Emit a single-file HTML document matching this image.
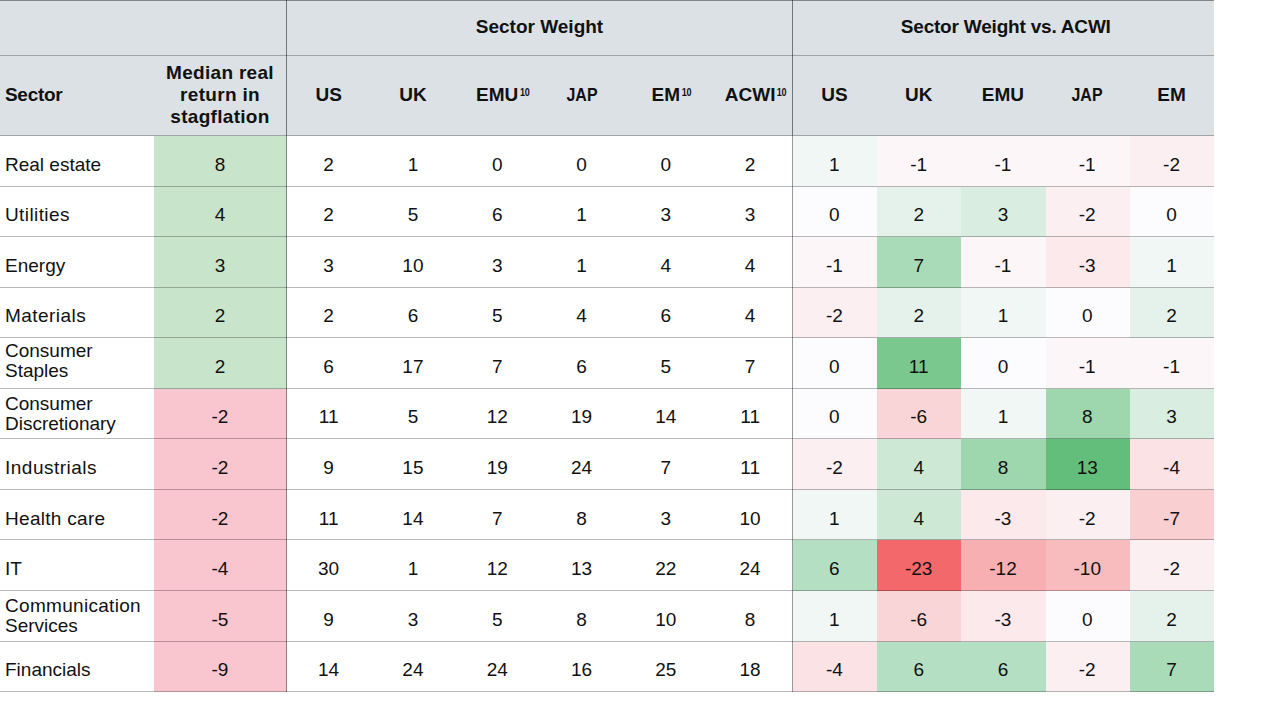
<!DOCTYPE html><html><head><meta charset="utf-8"><style>
html,body{margin:0;padding:0;background:#fff;width:1280px;height:723px;overflow:hidden;position:relative}
body{font-family:"Liberation Sans",sans-serif;color:#111}
.a{position:absolute}
.t{position:absolute;white-space:nowrap;text-align:center;font-size:19px;line-height:20px}
.b{font-weight:bold}
.s{position:absolute;font-size:10.5px;font-weight:bold;line-height:10px;letter-spacing:-0.3px;transform:scaleX(0.86);transform-origin:0 0}
</style></head><body>

<div class="a" style="left:0.00px;top:0.00px;width:1214.00px;height:136.00px;background:#dce1e5"></div>
<div class="a" style="left:154.00px;top:136.00px;width:133.00px;height:51.00px;background:#c8e4ca"></div>
<div class="a" style="left:793.00px;top:136.00px;width:84.00px;height:51.00px;background:rgb(240,247,245)"></div>
<div class="a" style="left:877.00px;top:136.00px;width:84.00px;height:51.00px;background:rgb(252,246,249)"></div>
<div class="a" style="left:961.00px;top:136.00px;width:85.00px;height:51.00px;background:rgb(252,246,249)"></div>
<div class="a" style="left:1046.00px;top:136.00px;width:84.00px;height:51.00px;background:rgb(252,246,249)"></div>
<div class="a" style="left:1130.00px;top:136.00px;width:84.00px;height:51.00px;background:rgb(251,239,242)"></div>
<div class="a" style="left:154.00px;top:187.00px;width:133.00px;height:50.00px;background:#c8e4ca"></div>
<div class="a" style="left:793.00px;top:187.00px;width:84.00px;height:50.00px;background:rgb(252,252,255)"></div>
<div class="a" style="left:877.00px;top:187.00px;width:84.00px;height:50.00px;background:rgb(228,242,235)"></div>
<div class="a" style="left:961.00px;top:187.00px;width:85.00px;height:50.00px;background:rgb(217,238,225)"></div>
<div class="a" style="left:1046.00px;top:187.00px;width:84.00px;height:50.00px;background:rgb(251,239,242)"></div>
<div class="a" style="left:1130.00px;top:187.00px;width:84.00px;height:50.00px;background:rgb(252,252,255)"></div>
<div class="a" style="left:154.00px;top:237.00px;width:133.00px;height:51.00px;background:#c8e4ca"></div>
<div class="a" style="left:793.00px;top:237.00px;width:84.00px;height:51.00px;background:rgb(252,246,249)"></div>
<div class="a" style="left:877.00px;top:237.00px;width:84.00px;height:51.00px;background:rgb(170,219,184)"></div>
<div class="a" style="left:961.00px;top:237.00px;width:85.00px;height:51.00px;background:rgb(252,246,249)"></div>
<div class="a" style="left:1046.00px;top:237.00px;width:84.00px;height:51.00px;background:rgb(251,233,236)"></div>
<div class="a" style="left:1130.00px;top:237.00px;width:84.00px;height:51.00px;background:rgb(240,247,245)"></div>
<div class="a" style="left:154.00px;top:288.00px;width:133.00px;height:50.00px;background:#c8e4ca"></div>
<div class="a" style="left:793.00px;top:288.00px;width:84.00px;height:50.00px;background:rgb(251,239,242)"></div>
<div class="a" style="left:877.00px;top:288.00px;width:84.00px;height:50.00px;background:rgb(228,242,235)"></div>
<div class="a" style="left:961.00px;top:288.00px;width:85.00px;height:50.00px;background:rgb(240,247,245)"></div>
<div class="a" style="left:1046.00px;top:288.00px;width:84.00px;height:50.00px;background:rgb(252,252,255)"></div>
<div class="a" style="left:1130.00px;top:288.00px;width:84.00px;height:50.00px;background:rgb(228,242,235)"></div>
<div class="a" style="left:154.00px;top:338.00px;width:133.00px;height:51.00px;background:#c8e4ca"></div>
<div class="a" style="left:793.00px;top:338.00px;width:84.00px;height:51.00px;background:rgb(252,252,255)"></div>
<div class="a" style="left:877.00px;top:338.00px;width:84.00px;height:51.00px;background:rgb(123,200,143)"></div>
<div class="a" style="left:961.00px;top:338.00px;width:85.00px;height:51.00px;background:rgb(252,252,255)"></div>
<div class="a" style="left:1046.00px;top:338.00px;width:84.00px;height:51.00px;background:rgb(252,246,249)"></div>
<div class="a" style="left:1130.00px;top:338.00px;width:84.00px;height:51.00px;background:rgb(252,246,249)"></div>
<div class="a" style="left:154.00px;top:389.00px;width:133.00px;height:50.00px;background:#f9c6cf"></div>
<div class="a" style="left:793.00px;top:389.00px;width:84.00px;height:50.00px;background:rgb(252,252,255)"></div>
<div class="a" style="left:877.00px;top:389.00px;width:84.00px;height:50.00px;background:rgb(249,213,216)"></div>
<div class="a" style="left:961.00px;top:389.00px;width:85.00px;height:50.00px;background:rgb(240,247,245)"></div>
<div class="a" style="left:1046.00px;top:389.00px;width:84.00px;height:50.00px;background:rgb(158,214,174)"></div>
<div class="a" style="left:1130.00px;top:389.00px;width:84.00px;height:50.00px;background:rgb(217,238,225)"></div>
<div class="a" style="left:154.00px;top:439.00px;width:133.00px;height:51.00px;background:#f9c6cf"></div>
<div class="a" style="left:793.00px;top:439.00px;width:84.00px;height:51.00px;background:rgb(251,239,242)"></div>
<div class="a" style="left:877.00px;top:439.00px;width:84.00px;height:51.00px;background:rgb(205,233,214)"></div>
<div class="a" style="left:961.00px;top:439.00px;width:85.00px;height:51.00px;background:rgb(158,214,174)"></div>
<div class="a" style="left:1046.00px;top:439.00px;width:84.00px;height:51.00px;background:rgb(99,190,123)"></div>
<div class="a" style="left:1130.00px;top:439.00px;width:84.00px;height:51.00px;background:rgb(250,226,229)"></div>
<div class="a" style="left:154.00px;top:490.00px;width:133.00px;height:50.00px;background:#f9c6cf"></div>
<div class="a" style="left:793.00px;top:490.00px;width:84.00px;height:50.00px;background:rgb(240,247,245)"></div>
<div class="a" style="left:877.00px;top:490.00px;width:84.00px;height:50.00px;background:rgb(205,233,214)"></div>
<div class="a" style="left:961.00px;top:490.00px;width:85.00px;height:50.00px;background:rgb(251,233,236)"></div>
<div class="a" style="left:1046.00px;top:490.00px;width:84.00px;height:50.00px;background:rgb(251,239,242)"></div>
<div class="a" style="left:1130.00px;top:490.00px;width:84.00px;height:50.00px;background:rgb(249,207,210)"></div>
<div class="a" style="left:154.00px;top:540.00px;width:133.00px;height:51.00px;background:#f9c6cf"></div>
<div class="a" style="left:793.00px;top:540.00px;width:84.00px;height:51.00px;background:rgb(181,223,194)"></div>
<div class="a" style="left:877.00px;top:540.00px;width:84.00px;height:51.00px;background:rgb(242,104,107)"></div>
<div class="a" style="left:961.00px;top:540.00px;width:85.00px;height:51.00px;background:rgb(247,175,178)"></div>
<div class="a" style="left:1046.00px;top:540.00px;width:84.00px;height:51.00px;background:rgb(248,188,191)"></div>
<div class="a" style="left:1130.00px;top:540.00px;width:84.00px;height:51.00px;background:rgb(251,239,242)"></div>
<div class="a" style="left:154.00px;top:591.00px;width:133.00px;height:51.00px;background:#f9c6cf"></div>
<div class="a" style="left:793.00px;top:591.00px;width:84.00px;height:51.00px;background:rgb(240,247,245)"></div>
<div class="a" style="left:877.00px;top:591.00px;width:84.00px;height:51.00px;background:rgb(249,213,216)"></div>
<div class="a" style="left:961.00px;top:591.00px;width:85.00px;height:51.00px;background:rgb(251,233,236)"></div>
<div class="a" style="left:1046.00px;top:591.00px;width:84.00px;height:51.00px;background:rgb(252,252,255)"></div>
<div class="a" style="left:1130.00px;top:591.00px;width:84.00px;height:51.00px;background:rgb(228,242,235)"></div>
<div class="a" style="left:154.00px;top:642.00px;width:133.00px;height:50.00px;background:#f9c6cf"></div>
<div class="a" style="left:793.00px;top:642.00px;width:84.00px;height:50.00px;background:rgb(250,226,229)"></div>
<div class="a" style="left:877.00px;top:642.00px;width:84.00px;height:50.00px;background:rgb(181,223,194)"></div>
<div class="a" style="left:961.00px;top:642.00px;width:85.00px;height:50.00px;background:rgb(181,223,194)"></div>
<div class="a" style="left:1046.00px;top:642.00px;width:84.00px;height:50.00px;background:rgb(251,239,242)"></div>
<div class="a" style="left:1130.00px;top:642.00px;width:84.00px;height:50.00px;background:rgb(170,219,184)"></div>
<div class="t b" style="left:539.50px;top:17.17px;width:0;line-height:20px"><div style="position:absolute;left:0;transform:translateX(-50%)">Sector Weight</div></div>
<div class="t b" style="left:1005.75px;top:17.17px;width:0;line-height:20px"><div style="position:absolute;left:0;transform:translateX(-50%)"><span style='letter-spacing:-0.2px'>Sector Weight vs. ACWI</span></div></div>
<div class="t b" style="left:5.00px;top:84.92px;text-align:left;line-height:20px"><span style='letter-spacing:-0.3px'>Sector</span></div>
<div class="t b" style="left:153.5px;width:133px;top:62.22px;line-height:22px;white-space:normal"><span style="letter-spacing:0.3px">Median real<br>return in<br>stagflation</span></div>
<div class="t b" style="left:328.64px;top:84.82px;width:0;line-height:20px"><div style="position:absolute;left:0;transform:translateX(-50%)">US</div></div>
<div class="t b" style="left:412.94px;top:84.82px;width:0;line-height:20px"><div style="position:absolute;left:0;transform:translateX(-50%)">UK</div></div>
<div class="t b" style="left:497.23px;top:84.82px;width:0"><div style="position:absolute;left:0;transform:translateX(-50%)">EMU<span class="s" style="left:100%;top:2px;margin-left:1.5px">10</span></div></div>
<div class="t b" style="left:581.52px;top:84.82px;width:0;line-height:20px"><div style="position:absolute;left:0;transform:translateX(-50%)"><span style='display:inline-block;transform:scaleX(0.84)'>JAP</span></div></div>
<div class="t b" style="left:665.81px;top:84.82px;width:0"><div style="position:absolute;left:0;transform:translateX(-50%)">EM<span class="s" style="left:100%;top:2px;margin-left:1.5px">10</span></div></div>
<div class="t b" style="left:750.10px;top:84.82px;width:0"><div style="position:absolute;left:0;transform:translateX(-50%)">ACWI<span class="s" style="left:100%;top:2px;margin-left:1.5px">10</span></div></div>
<div class="t b" style="left:834.38px;top:84.82px;width:0;line-height:20px"><div style="position:absolute;left:0;transform:translateX(-50%)">US</div></div>
<div class="t b" style="left:918.68px;top:84.82px;width:0;line-height:20px"><div style="position:absolute;left:0;transform:translateX(-50%)">UK</div></div>
<div class="t b" style="left:1002.97px;top:84.82px;width:0;line-height:20px"><div style="position:absolute;left:0;transform:translateX(-50%)">EMU</div></div>
<div class="t b" style="left:1087.26px;top:84.82px;width:0;line-height:20px"><div style="position:absolute;left:0;transform:translateX(-50%)"><span style='display:inline-block;transform:scaleX(0.84)'>JAP</span></div></div>
<div class="t b" style="left:1171.55px;top:84.82px;width:0;line-height:20px"><div style="position:absolute;left:0;transform:translateX(-50%)">EM</div></div>
<div class="t" style="left:5.00px;top:154.72px;text-align:left;line-height:20px">Real estate</div>
<div class="t" style="left:220.00px;top:154.72px;width:0;line-height:20px"><div style="position:absolute;left:0;transform:translateX(-50%)">8</div></div>
<div class="t" style="left:328.64px;top:154.72px;width:0;line-height:20px"><div style="position:absolute;left:0;transform:translateX(-50%)">2</div></div>
<div class="t" style="left:412.94px;top:154.72px;width:0;line-height:20px"><div style="position:absolute;left:0;transform:translateX(-50%)">1</div></div>
<div class="t" style="left:497.23px;top:154.72px;width:0;line-height:20px"><div style="position:absolute;left:0;transform:translateX(-50%)">0</div></div>
<div class="t" style="left:581.52px;top:154.72px;width:0;line-height:20px"><div style="position:absolute;left:0;transform:translateX(-50%)">0</div></div>
<div class="t" style="left:665.81px;top:154.72px;width:0;line-height:20px"><div style="position:absolute;left:0;transform:translateX(-50%)">0</div></div>
<div class="t" style="left:750.10px;top:154.72px;width:0;line-height:20px"><div style="position:absolute;left:0;transform:translateX(-50%)">2</div></div>
<div class="t" style="left:834.38px;top:154.72px;width:0;line-height:20px"><div style="position:absolute;left:0;transform:translateX(-50%)">1</div></div>
<div class="t" style="left:918.68px;top:154.72px;width:0;line-height:20px"><div style="position:absolute;left:0;transform:translateX(-50%)">-1</div></div>
<div class="t" style="left:1002.97px;top:154.72px;width:0;line-height:20px"><div style="position:absolute;left:0;transform:translateX(-50%)">-1</div></div>
<div class="t" style="left:1087.26px;top:154.72px;width:0;line-height:20px"><div style="position:absolute;left:0;transform:translateX(-50%)">-1</div></div>
<div class="t" style="left:1171.55px;top:154.72px;width:0;line-height:20px"><div style="position:absolute;left:0;transform:translateX(-50%)">-2</div></div>
<div class="t" style="left:5.00px;top:205.27px;text-align:left;line-height:20px"><span style='letter-spacing:0.4px'>Utilities</span></div>
<div class="t" style="left:220.00px;top:205.27px;width:0;line-height:20px"><div style="position:absolute;left:0;transform:translateX(-50%)">4</div></div>
<div class="t" style="left:328.64px;top:205.27px;width:0;line-height:20px"><div style="position:absolute;left:0;transform:translateX(-50%)">2</div></div>
<div class="t" style="left:412.94px;top:205.27px;width:0;line-height:20px"><div style="position:absolute;left:0;transform:translateX(-50%)">5</div></div>
<div class="t" style="left:497.23px;top:205.27px;width:0;line-height:20px"><div style="position:absolute;left:0;transform:translateX(-50%)">6</div></div>
<div class="t" style="left:581.52px;top:205.27px;width:0;line-height:20px"><div style="position:absolute;left:0;transform:translateX(-50%)">1</div></div>
<div class="t" style="left:665.81px;top:205.27px;width:0;line-height:20px"><div style="position:absolute;left:0;transform:translateX(-50%)">3</div></div>
<div class="t" style="left:750.10px;top:205.27px;width:0;line-height:20px"><div style="position:absolute;left:0;transform:translateX(-50%)">3</div></div>
<div class="t" style="left:834.38px;top:205.27px;width:0;line-height:20px"><div style="position:absolute;left:0;transform:translateX(-50%)">0</div></div>
<div class="t" style="left:918.68px;top:205.27px;width:0;line-height:20px"><div style="position:absolute;left:0;transform:translateX(-50%)">2</div></div>
<div class="t" style="left:1002.97px;top:205.27px;width:0;line-height:20px"><div style="position:absolute;left:0;transform:translateX(-50%)">3</div></div>
<div class="t" style="left:1087.26px;top:205.27px;width:0;line-height:20px"><div style="position:absolute;left:0;transform:translateX(-50%)">-2</div></div>
<div class="t" style="left:1171.55px;top:205.27px;width:0;line-height:20px"><div style="position:absolute;left:0;transform:translateX(-50%)">0</div></div>
<div class="t" style="left:5.00px;top:255.81px;text-align:left;line-height:20px">Energy</div>
<div class="t" style="left:220.00px;top:255.81px;width:0;line-height:20px"><div style="position:absolute;left:0;transform:translateX(-50%)">3</div></div>
<div class="t" style="left:328.64px;top:255.81px;width:0;line-height:20px"><div style="position:absolute;left:0;transform:translateX(-50%)">3</div></div>
<div class="t" style="left:412.94px;top:255.81px;width:0;line-height:20px"><div style="position:absolute;left:0;transform:translateX(-50%)">10</div></div>
<div class="t" style="left:497.23px;top:255.81px;width:0;line-height:20px"><div style="position:absolute;left:0;transform:translateX(-50%)">3</div></div>
<div class="t" style="left:581.52px;top:255.81px;width:0;line-height:20px"><div style="position:absolute;left:0;transform:translateX(-50%)">1</div></div>
<div class="t" style="left:665.81px;top:255.81px;width:0;line-height:20px"><div style="position:absolute;left:0;transform:translateX(-50%)">4</div></div>
<div class="t" style="left:750.10px;top:255.81px;width:0;line-height:20px"><div style="position:absolute;left:0;transform:translateX(-50%)">4</div></div>
<div class="t" style="left:834.38px;top:255.81px;width:0;line-height:20px"><div style="position:absolute;left:0;transform:translateX(-50%)">-1</div></div>
<div class="t" style="left:918.68px;top:255.81px;width:0;line-height:20px"><div style="position:absolute;left:0;transform:translateX(-50%)">7</div></div>
<div class="t" style="left:1002.97px;top:255.81px;width:0;line-height:20px"><div style="position:absolute;left:0;transform:translateX(-50%)">-1</div></div>
<div class="t" style="left:1087.26px;top:255.81px;width:0;line-height:20px"><div style="position:absolute;left:0;transform:translateX(-50%)">-3</div></div>
<div class="t" style="left:1171.55px;top:255.81px;width:0;line-height:20px"><div style="position:absolute;left:0;transform:translateX(-50%)">1</div></div>
<div class="t" style="left:5.00px;top:306.36px;text-align:left;line-height:20px"><span style='letter-spacing:0.45px'>Materials</span></div>
<div class="t" style="left:220.00px;top:306.36px;width:0;line-height:20px"><div style="position:absolute;left:0;transform:translateX(-50%)">2</div></div>
<div class="t" style="left:328.64px;top:306.36px;width:0;line-height:20px"><div style="position:absolute;left:0;transform:translateX(-50%)">2</div></div>
<div class="t" style="left:412.94px;top:306.36px;width:0;line-height:20px"><div style="position:absolute;left:0;transform:translateX(-50%)">6</div></div>
<div class="t" style="left:497.23px;top:306.36px;width:0;line-height:20px"><div style="position:absolute;left:0;transform:translateX(-50%)">5</div></div>
<div class="t" style="left:581.52px;top:306.36px;width:0;line-height:20px"><div style="position:absolute;left:0;transform:translateX(-50%)">4</div></div>
<div class="t" style="left:665.81px;top:306.36px;width:0;line-height:20px"><div style="position:absolute;left:0;transform:translateX(-50%)">6</div></div>
<div class="t" style="left:750.10px;top:306.36px;width:0;line-height:20px"><div style="position:absolute;left:0;transform:translateX(-50%)">4</div></div>
<div class="t" style="left:834.38px;top:306.36px;width:0;line-height:20px"><div style="position:absolute;left:0;transform:translateX(-50%)">-2</div></div>
<div class="t" style="left:918.68px;top:306.36px;width:0;line-height:20px"><div style="position:absolute;left:0;transform:translateX(-50%)">2</div></div>
<div class="t" style="left:1002.97px;top:306.36px;width:0;line-height:20px"><div style="position:absolute;left:0;transform:translateX(-50%)">1</div></div>
<div class="t" style="left:1087.26px;top:306.36px;width:0;line-height:20px"><div style="position:absolute;left:0;transform:translateX(-50%)">0</div></div>
<div class="t" style="left:1171.55px;top:306.36px;width:0;line-height:20px"><div style="position:absolute;left:0;transform:translateX(-50%)">2</div></div>
<div class="t" style="left:5px;top:341.30px;text-align:left">Consumer<br>Staples</div>
<div class="t" style="left:220.00px;top:356.90px;width:0;line-height:20px"><div style="position:absolute;left:0;transform:translateX(-50%)">2</div></div>
<div class="t" style="left:328.64px;top:356.90px;width:0;line-height:20px"><div style="position:absolute;left:0;transform:translateX(-50%)">6</div></div>
<div class="t" style="left:412.94px;top:356.90px;width:0;line-height:20px"><div style="position:absolute;left:0;transform:translateX(-50%)">17</div></div>
<div class="t" style="left:497.23px;top:356.90px;width:0;line-height:20px"><div style="position:absolute;left:0;transform:translateX(-50%)">7</div></div>
<div class="t" style="left:581.52px;top:356.90px;width:0;line-height:20px"><div style="position:absolute;left:0;transform:translateX(-50%)">6</div></div>
<div class="t" style="left:665.81px;top:356.90px;width:0;line-height:20px"><div style="position:absolute;left:0;transform:translateX(-50%)">5</div></div>
<div class="t" style="left:750.10px;top:356.90px;width:0;line-height:20px"><div style="position:absolute;left:0;transform:translateX(-50%)">7</div></div>
<div class="t" style="left:834.38px;top:356.90px;width:0;line-height:20px"><div style="position:absolute;left:0;transform:translateX(-50%)">0</div></div>
<div class="t" style="left:918.68px;top:356.90px;width:0;line-height:20px"><div style="position:absolute;left:0;transform:translateX(-50%)">11</div></div>
<div class="t" style="left:1002.97px;top:356.90px;width:0;line-height:20px"><div style="position:absolute;left:0;transform:translateX(-50%)">0</div></div>
<div class="t" style="left:1087.26px;top:356.90px;width:0;line-height:20px"><div style="position:absolute;left:0;transform:translateX(-50%)">-1</div></div>
<div class="t" style="left:1171.55px;top:356.90px;width:0;line-height:20px"><div style="position:absolute;left:0;transform:translateX(-50%)">-1</div></div>
<div class="t" style="left:5px;top:393.55px;text-align:left">Consumer<br>Discretionary</div>
<div class="t" style="left:220.00px;top:407.45px;width:0;line-height:20px"><div style="position:absolute;left:0;transform:translateX(-50%)">-2</div></div>
<div class="t" style="left:328.64px;top:407.45px;width:0;line-height:20px"><div style="position:absolute;left:0;transform:translateX(-50%)">11</div></div>
<div class="t" style="left:412.94px;top:407.45px;width:0;line-height:20px"><div style="position:absolute;left:0;transform:translateX(-50%)">5</div></div>
<div class="t" style="left:497.23px;top:407.45px;width:0;line-height:20px"><div style="position:absolute;left:0;transform:translateX(-50%)">12</div></div>
<div class="t" style="left:581.52px;top:407.45px;width:0;line-height:20px"><div style="position:absolute;left:0;transform:translateX(-50%)">19</div></div>
<div class="t" style="left:665.81px;top:407.45px;width:0;line-height:20px"><div style="position:absolute;left:0;transform:translateX(-50%)">14</div></div>
<div class="t" style="left:750.10px;top:407.45px;width:0;line-height:20px"><div style="position:absolute;left:0;transform:translateX(-50%)">11</div></div>
<div class="t" style="left:834.38px;top:407.45px;width:0;line-height:20px"><div style="position:absolute;left:0;transform:translateX(-50%)">0</div></div>
<div class="t" style="left:918.68px;top:407.45px;width:0;line-height:20px"><div style="position:absolute;left:0;transform:translateX(-50%)">-6</div></div>
<div class="t" style="left:1002.97px;top:407.45px;width:0;line-height:20px"><div style="position:absolute;left:0;transform:translateX(-50%)">1</div></div>
<div class="t" style="left:1087.26px;top:407.45px;width:0;line-height:20px"><div style="position:absolute;left:0;transform:translateX(-50%)">8</div></div>
<div class="t" style="left:1171.55px;top:407.45px;width:0;line-height:20px"><div style="position:absolute;left:0;transform:translateX(-50%)">3</div></div>
<div class="t" style="left:5.00px;top:457.99px;text-align:left;line-height:20px"><span style='letter-spacing:0.5px'>Industrials</span></div>
<div class="t" style="left:220.00px;top:457.99px;width:0;line-height:20px"><div style="position:absolute;left:0;transform:translateX(-50%)">-2</div></div>
<div class="t" style="left:328.64px;top:457.99px;width:0;line-height:20px"><div style="position:absolute;left:0;transform:translateX(-50%)">9</div></div>
<div class="t" style="left:412.94px;top:457.99px;width:0;line-height:20px"><div style="position:absolute;left:0;transform:translateX(-50%)">15</div></div>
<div class="t" style="left:497.23px;top:457.99px;width:0;line-height:20px"><div style="position:absolute;left:0;transform:translateX(-50%)">19</div></div>
<div class="t" style="left:581.52px;top:457.99px;width:0;line-height:20px"><div style="position:absolute;left:0;transform:translateX(-50%)">24</div></div>
<div class="t" style="left:665.81px;top:457.99px;width:0;line-height:20px"><div style="position:absolute;left:0;transform:translateX(-50%)">7</div></div>
<div class="t" style="left:750.10px;top:457.99px;width:0;line-height:20px"><div style="position:absolute;left:0;transform:translateX(-50%)">11</div></div>
<div class="t" style="left:834.38px;top:457.99px;width:0;line-height:20px"><div style="position:absolute;left:0;transform:translateX(-50%)">-2</div></div>
<div class="t" style="left:918.68px;top:457.99px;width:0;line-height:20px"><div style="position:absolute;left:0;transform:translateX(-50%)">4</div></div>
<div class="t" style="left:1002.97px;top:457.99px;width:0;line-height:20px"><div style="position:absolute;left:0;transform:translateX(-50%)">8</div></div>
<div class="t" style="left:1087.26px;top:457.99px;width:0;line-height:20px"><div style="position:absolute;left:0;transform:translateX(-50%)">13</div></div>
<div class="t" style="left:1171.55px;top:457.99px;width:0;line-height:20px"><div style="position:absolute;left:0;transform:translateX(-50%)">-4</div></div>
<div class="t" style="left:5.00px;top:508.54px;text-align:left;line-height:20px"><span style='letter-spacing:0.3px'>Health care</span></div>
<div class="t" style="left:220.00px;top:508.54px;width:0;line-height:20px"><div style="position:absolute;left:0;transform:translateX(-50%)">-2</div></div>
<div class="t" style="left:328.64px;top:508.54px;width:0;line-height:20px"><div style="position:absolute;left:0;transform:translateX(-50%)">11</div></div>
<div class="t" style="left:412.94px;top:508.54px;width:0;line-height:20px"><div style="position:absolute;left:0;transform:translateX(-50%)">14</div></div>
<div class="t" style="left:497.23px;top:508.54px;width:0;line-height:20px"><div style="position:absolute;left:0;transform:translateX(-50%)">7</div></div>
<div class="t" style="left:581.52px;top:508.54px;width:0;line-height:20px"><div style="position:absolute;left:0;transform:translateX(-50%)">8</div></div>
<div class="t" style="left:665.81px;top:508.54px;width:0;line-height:20px"><div style="position:absolute;left:0;transform:translateX(-50%)">3</div></div>
<div class="t" style="left:750.10px;top:508.54px;width:0;line-height:20px"><div style="position:absolute;left:0;transform:translateX(-50%)">10</div></div>
<div class="t" style="left:834.38px;top:508.54px;width:0;line-height:20px"><div style="position:absolute;left:0;transform:translateX(-50%)">1</div></div>
<div class="t" style="left:918.68px;top:508.54px;width:0;line-height:20px"><div style="position:absolute;left:0;transform:translateX(-50%)">4</div></div>
<div class="t" style="left:1002.97px;top:508.54px;width:0;line-height:20px"><div style="position:absolute;left:0;transform:translateX(-50%)">-3</div></div>
<div class="t" style="left:1087.26px;top:508.54px;width:0;line-height:20px"><div style="position:absolute;left:0;transform:translateX(-50%)">-2</div></div>
<div class="t" style="left:1171.55px;top:508.54px;width:0;line-height:20px"><div style="position:absolute;left:0;transform:translateX(-50%)">-7</div></div>
<div class="t" style="left:5.00px;top:559.08px;text-align:left;line-height:20px">IT</div>
<div class="t" style="left:220.00px;top:559.08px;width:0;line-height:20px"><div style="position:absolute;left:0;transform:translateX(-50%)">-4</div></div>
<div class="t" style="left:328.64px;top:559.08px;width:0;line-height:20px"><div style="position:absolute;left:0;transform:translateX(-50%)">30</div></div>
<div class="t" style="left:412.94px;top:559.08px;width:0;line-height:20px"><div style="position:absolute;left:0;transform:translateX(-50%)">1</div></div>
<div class="t" style="left:497.23px;top:559.08px;width:0;line-height:20px"><div style="position:absolute;left:0;transform:translateX(-50%)">12</div></div>
<div class="t" style="left:581.52px;top:559.08px;width:0;line-height:20px"><div style="position:absolute;left:0;transform:translateX(-50%)">13</div></div>
<div class="t" style="left:665.81px;top:559.08px;width:0;line-height:20px"><div style="position:absolute;left:0;transform:translateX(-50%)">22</div></div>
<div class="t" style="left:750.10px;top:559.08px;width:0;line-height:20px"><div style="position:absolute;left:0;transform:translateX(-50%)">24</div></div>
<div class="t" style="left:834.38px;top:559.08px;width:0;line-height:20px"><div style="position:absolute;left:0;transform:translateX(-50%)">6</div></div>
<div class="t" style="left:918.68px;top:559.08px;width:0;line-height:20px"><div style="position:absolute;left:0;transform:translateX(-50%)">-23</div></div>
<div class="t" style="left:1002.97px;top:559.08px;width:0;line-height:20px"><div style="position:absolute;left:0;transform:translateX(-50%)">-12</div></div>
<div class="t" style="left:1087.26px;top:559.08px;width:0;line-height:20px"><div style="position:absolute;left:0;transform:translateX(-50%)">-10</div></div>
<div class="t" style="left:1171.55px;top:559.08px;width:0;line-height:20px"><div style="position:absolute;left:0;transform:translateX(-50%)">-2</div></div>
<div class="t" style="left:5px;top:595.72px;text-align:left"><span style='letter-spacing:0.3px'>Communication</span><br>Services</div>
<div class="t" style="left:220.00px;top:609.62px;width:0;line-height:20px"><div style="position:absolute;left:0;transform:translateX(-50%)">-5</div></div>
<div class="t" style="left:328.64px;top:609.62px;width:0;line-height:20px"><div style="position:absolute;left:0;transform:translateX(-50%)">9</div></div>
<div class="t" style="left:412.94px;top:609.62px;width:0;line-height:20px"><div style="position:absolute;left:0;transform:translateX(-50%)">3</div></div>
<div class="t" style="left:497.23px;top:609.62px;width:0;line-height:20px"><div style="position:absolute;left:0;transform:translateX(-50%)">5</div></div>
<div class="t" style="left:581.52px;top:609.62px;width:0;line-height:20px"><div style="position:absolute;left:0;transform:translateX(-50%)">8</div></div>
<div class="t" style="left:665.81px;top:609.62px;width:0;line-height:20px"><div style="position:absolute;left:0;transform:translateX(-50%)">10</div></div>
<div class="t" style="left:750.10px;top:609.62px;width:0;line-height:20px"><div style="position:absolute;left:0;transform:translateX(-50%)">8</div></div>
<div class="t" style="left:834.38px;top:609.62px;width:0;line-height:20px"><div style="position:absolute;left:0;transform:translateX(-50%)">1</div></div>
<div class="t" style="left:918.68px;top:609.62px;width:0;line-height:20px"><div style="position:absolute;left:0;transform:translateX(-50%)">-6</div></div>
<div class="t" style="left:1002.97px;top:609.62px;width:0;line-height:20px"><div style="position:absolute;left:0;transform:translateX(-50%)">-3</div></div>
<div class="t" style="left:1087.26px;top:609.62px;width:0;line-height:20px"><div style="position:absolute;left:0;transform:translateX(-50%)">0</div></div>
<div class="t" style="left:1171.55px;top:609.62px;width:0;line-height:20px"><div style="position:absolute;left:0;transform:translateX(-50%)">2</div></div>
<div class="t" style="left:5.00px;top:660.17px;text-align:left;line-height:20px">Financials</div>
<div class="t" style="left:220.00px;top:660.17px;width:0;line-height:20px"><div style="position:absolute;left:0;transform:translateX(-50%)">-9</div></div>
<div class="t" style="left:328.64px;top:660.17px;width:0;line-height:20px"><div style="position:absolute;left:0;transform:translateX(-50%)">14</div></div>
<div class="t" style="left:412.94px;top:660.17px;width:0;line-height:20px"><div style="position:absolute;left:0;transform:translateX(-50%)">24</div></div>
<div class="t" style="left:497.23px;top:660.17px;width:0;line-height:20px"><div style="position:absolute;left:0;transform:translateX(-50%)">24</div></div>
<div class="t" style="left:581.52px;top:660.17px;width:0;line-height:20px"><div style="position:absolute;left:0;transform:translateX(-50%)">16</div></div>
<div class="t" style="left:665.81px;top:660.17px;width:0;line-height:20px"><div style="position:absolute;left:0;transform:translateX(-50%)">25</div></div>
<div class="t" style="left:750.10px;top:660.17px;width:0;line-height:20px"><div style="position:absolute;left:0;transform:translateX(-50%)">18</div></div>
<div class="t" style="left:834.38px;top:660.17px;width:0;line-height:20px"><div style="position:absolute;left:0;transform:translateX(-50%)">-4</div></div>
<div class="t" style="left:918.68px;top:660.17px;width:0;line-height:20px"><div style="position:absolute;left:0;transform:translateX(-50%)">6</div></div>
<div class="t" style="left:1002.97px;top:660.17px;width:0;line-height:20px"><div style="position:absolute;left:0;transform:translateX(-50%)">6</div></div>
<div class="t" style="left:1087.26px;top:660.17px;width:0;line-height:20px"><div style="position:absolute;left:0;transform:translateX(-50%)">-2</div></div>
<div class="t" style="left:1171.55px;top:660.17px;width:0;line-height:20px"><div style="position:absolute;left:0;transform:translateX(-50%)">7</div></div>
<div class="a" style="left:0;top:0;width:1214px;height:1px;background:rgba(0,0,0,0.4)"></div>
<div class="a" style="left:0.00px;top:55.00px;width:1214.00px;height:1.00px;background:rgba(0,0,0,0.27)"></div>
<div class="a" style="left:0.00px;top:135.00px;width:1214.00px;height:1.00px;background:rgba(0,0,0,0.27)"></div>
<div class="a" style="left:0.00px;top:186.00px;width:1214.00px;height:1.00px;background:rgba(0,0,0,0.27)"></div>
<div class="a" style="left:0.00px;top:236.00px;width:1214.00px;height:1.00px;background:rgba(0,0,0,0.27)"></div>
<div class="a" style="left:0.00px;top:287.00px;width:1214.00px;height:1.00px;background:rgba(0,0,0,0.27)"></div>
<div class="a" style="left:0.00px;top:337.00px;width:1214.00px;height:1.00px;background:rgba(0,0,0,0.27)"></div>
<div class="a" style="left:0.00px;top:388.00px;width:1214.00px;height:1.00px;background:rgba(0,0,0,0.27)"></div>
<div class="a" style="left:0.00px;top:438.00px;width:1214.00px;height:1.00px;background:rgba(0,0,0,0.27)"></div>
<div class="a" style="left:0.00px;top:489.00px;width:1214.00px;height:1.00px;background:rgba(0,0,0,0.27)"></div>
<div class="a" style="left:0.00px;top:539.00px;width:1214.00px;height:1.00px;background:rgba(0,0,0,0.27)"></div>
<div class="a" style="left:0.00px;top:590.00px;width:1214.00px;height:1.00px;background:rgba(0,0,0,0.27)"></div>
<div class="a" style="left:0.00px;top:641.00px;width:1214.00px;height:1.00px;background:rgba(0,0,0,0.27)"></div>
<div class="a" style="left:0.00px;top:691.00px;width:1214.00px;height:1.00px;background:rgba(0,0,0,0.27)"></div>
<div class="a" style="left:286.00px;top:0.00px;width:1.00px;height:135.00px;background:rgba(0,0,0,0.48)"></div>
<div class="a" style="left:792.00px;top:0.00px;width:1.00px;height:135.00px;background:rgba(0,0,0,0.48)"></div>
<div class="a" style="left:286.00px;top:135.00px;width:1.00px;height:557.00px;background:rgba(0,0,0,0.4)"></div>
<div class="a" style="left:792.00px;top:135.00px;width:1.00px;height:557.00px;background:rgba(0,0,0,0.4)"></div>
</body></html>
